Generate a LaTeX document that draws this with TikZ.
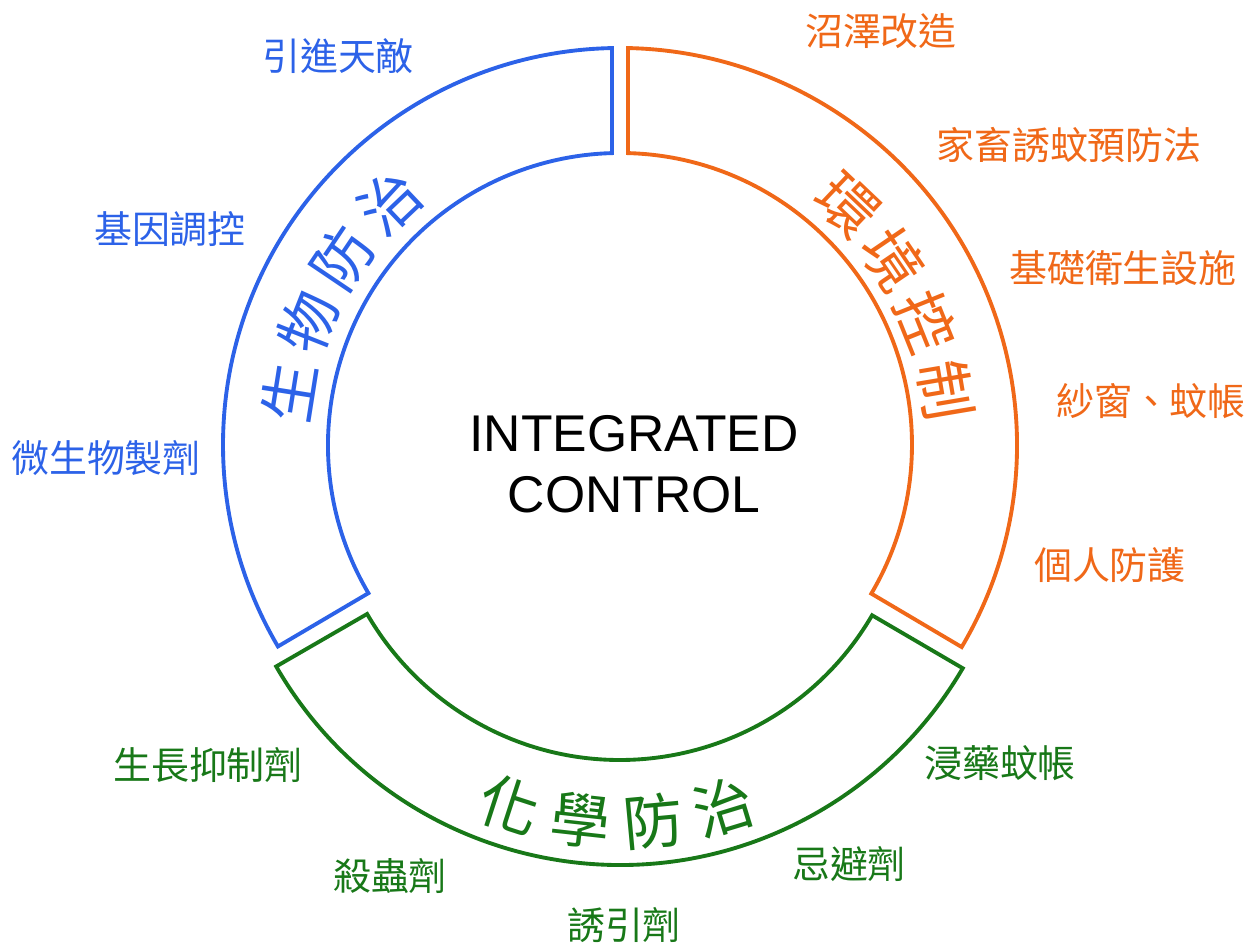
\documentclass[tikz,border=0pt]{standalone}
\usepackage{fontspec}
\setmainfont{Liberation Sans}
\newfontfamily\cjk{Noto Sans CJK TC}
\usepackage{tikz}

\definecolor{bioblue}{RGB}{44,98,232}
\definecolor{envorange}{RGB}{240,104,24}
\definecolor{chemgreen}{RGB}{24,120,24}

\begin{document}
\begin{tikzpicture}[
    ring/.style={line width=1.1pt},
    item/.style={font=\cjk\fontsize{10.8}{13}\selectfont, inner sep=0pt},
    arcch/.style={font=\cjk\fontsize{17}{20}\selectfont, inner sep=0pt}
  ]
            \useasboundingbox (0,0) rectangle (12.6,9.48);
            \coordinate (c1) at (6.20,5.03);
            \coordinate (c2) at (6.20,4.80);
            % the three ring sectors
            \draw [ring, bioblue, shift={(c1)}] (91.15:3.97) arc[start angle=91.15, end angle=210.5, radius=3.97]
                -- (210.5:2.92) arc[start angle=210.5, end angle=91.57, radius=2.92] -- cycle;
            \draw [ring, envorange, shift={(c1)}] (-30.6:3.97) arc[start angle=-30.6, end angle=88.85, radius=3.97]
                -- (88.43:2.92) arc[start angle=88.43, end angle=-30.6, radius=2.92] -- cycle;
            \draw [ring, chemgreen, shift={(c2)}] (210:3.97) arc[start angle=210, end angle=329.7, radius=3.97]
                -- (329.7:2.92) arc[start angle=329.7, end angle=210, radius=2.92] -- cycle;
            % titles along the arcs
            \foreach \ch [count=\i] in {生,物,防,治} {
                \pgfmathsetmacro\a{171-12.5*(\i-1)}
                \path (c1) ++(\a:3.35) node [arcch, bioblue, rotate=\a-90] (bio\i) {\ch};
            }
            \foreach \ch [count=\i] in {環,境,控,制} {
                \pgfmathsetmacro\a{46.5-12.3*(\i-1)}
                \path (c1) ++(\a:3.30) node [arcch, envorange, rotate=\a-90] (env\i) {\ch};
            }
            \foreach \ch [count=\i] in {化,學,防,治} {
                \pgfmathsetmacro\a{252+11.65*(\i-1)}
                \path (c2) ++(\a:3.55) node [arcch, chemgreen, rotate=\a+90] (chem\i) {\ch};
            }
            \node [font=\fontsize{14.7}{17.3}\selectfont, align=center] (core) at (6.34,4.84) {INTEGRATED\\CONTROL};
            % biological
            \node [item, bioblue] (enemy) at (3.38,8.92) {引進天敵};
            \node [item, bioblue] (gene) at (1.70,7.19) {基因調控};
            \node [item, bioblue] (microbe) at (1.06,4.90) {微生物製劑};
            % environmental
            \node [item, envorange] (swamp) at (8.81,9.17) {沼澤改造};
            \node [item, envorange] (livestock) at (10.69,8.03) {家畜誘蚊預防法};
            \node [item, envorange] (sanit) at (11.23,6.80) {基礎衛生設施};
            \node [item, envorange] (screen) at (11.51,5.47) {紗窗、蚊帳};
            \node [item, envorange] (personal) at (11.10,3.83) {個人防護};
            % chemical
            \node [item, chemgreen] (growth) at (2.08,1.83) {生長抑制劑};
            \node [item, chemgreen] (insecticide) at (3.90,0.72) {殺蟲劑};
            \node [item, chemgreen] (lure) at (6.24,0.23) {誘引劑};
            \node [item, chemgreen] (net) at (10.00,1.85) {浸藥蚊帳};
            \node [item, chemgreen] (repel) at (8.49,0.84) {忌避劑};
\end{tikzpicture}
\end{document}
